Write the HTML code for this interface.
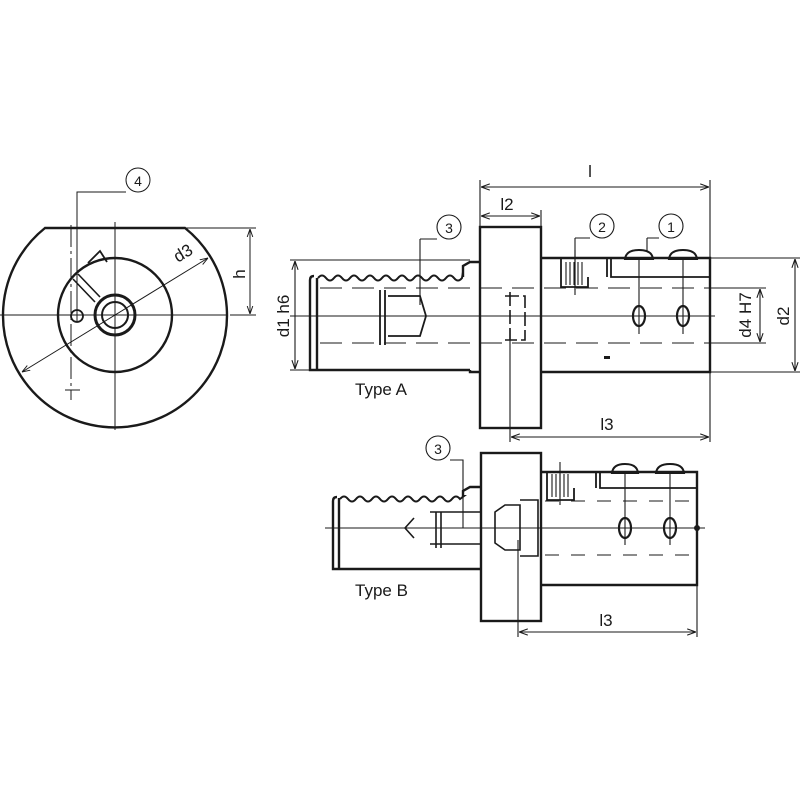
<!DOCTYPE html>
<html><head><meta charset="utf-8"><style>html,body{margin:0;padding:0;background:#fff}svg{display:block}</style></head><body>
<svg width="800" height="800" viewBox="0 0 800 800" xmlns="http://www.w3.org/2000/svg" font-family="Liberation Sans, sans-serif" fill="none" stroke="#1a1a1a">
<defs><marker id="a" viewBox="0 0 10 10" refX="10" refY="5" markerWidth="8" markerHeight="8" orient="auto-start-reverse"><path d="M0,1.5 L10,5 L0,8.5" fill="none" stroke="#1a1a1a" stroke-width="1.2"/></marker></defs>
<!-- LEFT VIEW -->
<g stroke-width="2.4">
<path d="M45,228 L185,228 A112,112 0 1 1 45,228 Z"/>
<circle cx="115" cy="315" r="57"/>
<circle cx="115" cy="315" r="20" stroke-width="3"/>
<circle cx="115" cy="315" r="13" stroke-width="2"/>
<circle cx="77" cy="316" r="6" stroke-width="1.8"/>
<path d="M88,263 L100,251 L107,262" stroke-width="1.8"/>
<path d="M73,279 L95,302 M78,274 L100,297" stroke-width="1.6"/>
</g>
<g stroke-width="1">
<path d="M0,315 H228 M115,222 V430 M65,390 H80"/>
<path d="M71,225 V400" stroke-dasharray="22,4,3,4"/>
<path d="M77,321 V192 H126"/><circle cx="138" cy="180" r="12"/>
<path d="M22,372 L208,258" marker-start="url(#a)" marker-end="url(#a)"/>
<path d="M185,228 H256 M230,315 H256"/>
<path d="M250,229 V314" marker-start="url(#a)" marker-end="url(#a)"/>
</g>
<!-- TYPE A -->
<g stroke-width="2.4">
<rect x="480" y="227" width="61" height="201"/>
<path d="M541,258 H710 V372 H541"/>
<path d="M480,262 H470 L463,266 V277 M480,372 H470 V370 M310,280 Q310,276 314,276 M310,280 V370 H470 M317,278 V370"/>
<path d="M318,278 q4,-5 8,0 q4,5 8,0 q4,-5 8,0 q4,5 8,0 q4,-5 8,0 q4,5 8,0 q4,-5 8,0 q4,5 8,0 q4,-5 8,0 q4,5 8,0 q4,-5 8,0 q4,5 8,0 q4,-5 8,0 q4,5 8,0 q4,-5 8,0 q4,5 8,0 q4,-5 8,0 q4,5 8,0 L463,272" stroke-width="2"/>
<ellipse cx="639" cy="316" rx="6" ry="10" stroke-width="2.2"/>
<ellipse cx="683" cy="316" rx="6" ry="10" stroke-width="2.2"/>
<path d="M625,259 Q626,250 639,250 Q652,250 653,259 Z M669,259 Q670,250 683,250 Q696,250 697,259 Z" stroke-width="2"/>
<path d="M611,258 V277 H710 M607,258 V277 M561,258 V287 H588 V277" stroke-width="1.8"/>
</g>
<g stroke-width="1.1">
<path d="M566,262 V285 M570,262 V285 M574,262 V285 M578,262 V285 M582,262 V285"/>
<path d="M290,316 H715 M639,258 V334 M683,258 V334 M575,250 V295"/>
<path d="M320,288 H710 M320,343 H710" stroke-dasharray="22,10"/>
<path d="M380,290 V345 M385,290 V345 M388,296 H420 L426,316 L420,336 H388" stroke-width="1.8"/>
<path d="M510,292 V340 M505,296 H525 V340 H505" stroke-width="1.6" stroke-dasharray="14,4"/>
<path d="M420,239 H437 M420,239 V305"/><circle cx="449" cy="227" r="12"/>
<path d="M575,238 H590 M575,238 V290"/><circle cx="602" cy="226" r="12"/>
<path d="M647,238 H659 M647,238 V252"/><circle cx="671" cy="226" r="12"/>
<path d="M480,228 V180 M710,258 V180 M541,227 V210 M710,372 V442 M510,330 V442"/>
<path d="M481,187 H709" marker-start="url(#a)" marker-end="url(#a)"/>
<path d="M481,216 H540" marker-start="url(#a)" marker-end="url(#a)"/>
<path d="M511,437 H709" marker-start="url(#a)" marker-end="url(#a)"/>
<path d="M290,260 H470 M290,370 H310 M710,258 H800 M710,372 H800 M710,288 H766 M710,343 H766"/>
<path d="M295,261 V369" marker-start="url(#a)" marker-end="url(#a)"/>
<path d="M795,259 V371" marker-start="url(#a)" marker-end="url(#a)"/>
<path d="M760,289 V342" marker-start="url(#a)" marker-end="url(#a)"/>
</g>
<rect x="604" y="356" width="6" height="3" fill="#1a1a1a" stroke="none"/>
<!-- TYPE B -->
<g stroke-width="2.4">
<rect x="481" y="453" width="60" height="168"/>
<path d="M541,472 H697 V585 H541"/>
<path d="M481,487 H470 L463,491 V497 M481,569 H470 M333,501 Q333,497 337,497 M333,501 V569 H470 M339,498 V569"/>
<path d="M340,499 q4,-5 8,0 q4,5 8,0 q4,-5 8,0 q4,5 8,0 q4,-5 8,0 q4,5 8,0 q4,-5 8,0 q4,5 8,0 q4,-5 8,0 q4,5 8,0 q4,-5 8,0 q4,5 8,0 q4,-5 8,0 q4,5 8,0 q4,-5 8,0 l4,-3 H463" stroke-width="2"/>
<ellipse cx="625" cy="528" rx="6" ry="10" stroke-width="2.2"/>
<ellipse cx="670" cy="528" rx="6" ry="10" stroke-width="2.2"/>
<path d="M612,473 Q613,464 625,464 Q637,464 638,473 Z M656,473 Q657,464 670,464 Q683,464 684,473 Z" stroke-width="2"/>
<path d="M600,472 V488 H697 M596,472 V488 M547,472 V500 H574 V488" stroke-width="1.8"/>
</g>
<g stroke-width="1.1">
<path d="M552,474 V497 M556,474 V497 M560,474 V497 M564,474 V497 M568,474 V497"/>
<path d="M325,528 H705 M625,472 V545 M670,472 V545 M560,462 V505"/>
<path d="M545,501 H697 M545,555 H697" stroke-dasharray="14,12"/>
<path d="M414,518 L405,528 L414,538" stroke-width="1.6"/>
<path d="M436,512 V548 M441,512 V548 M430,512 H480 M430,544 H480" stroke-width="1.6"/>
<path d="M495,512 L505,505 H520 V550 H505 L495,543 Z M520,500 H538 V556 H520" stroke-width="1.6"/>
<path d="M450,460 H463 V528"/><circle cx="438" cy="448" r="12"/>
<path d="M697,585 V637 M518,540 V637"/>
<path d="M519,632 H696" marker-start="url(#a)" marker-end="url(#a)"/>
</g>
<circle cx="697" cy="528" r="3" fill="#1a1a1a" stroke="none"/>
<g fill="#1a1a1a" stroke="none" font-size="17">
<text x="138" y="186" text-anchor="middle" font-size="14">4</text>
<text x="449" y="233" text-anchor="middle" font-size="14">3</text>
<text x="602" y="232" text-anchor="middle" font-size="14">2</text>
<text x="671" y="232" text-anchor="middle" font-size="14">1</text>
<text x="438" y="454" text-anchor="middle" font-size="14">3</text>
<text x="590" y="177" text-anchor="middle">l</text>
<text x="507" y="210" text-anchor="middle">l2</text>
<text x="607" y="430" text-anchor="middle">l3</text>
<text x="606" y="626" text-anchor="middle">l3</text>
<text x="355" y="395">Type A</text>
<text x="355" y="596">Type B</text>
<text transform="translate(245,274) rotate(-90)" text-anchor="middle">h</text>
<text transform="translate(186,258) rotate(-31)" text-anchor="middle">d3</text>
<text transform="translate(289,316) rotate(-90)" text-anchor="middle">d1 h6</text>
<text transform="translate(751,315) rotate(-90)" text-anchor="middle">d4 H7</text>
<text transform="translate(789,316) rotate(-90)" text-anchor="middle">d2</text>
</g>
</svg>
</body></html>
